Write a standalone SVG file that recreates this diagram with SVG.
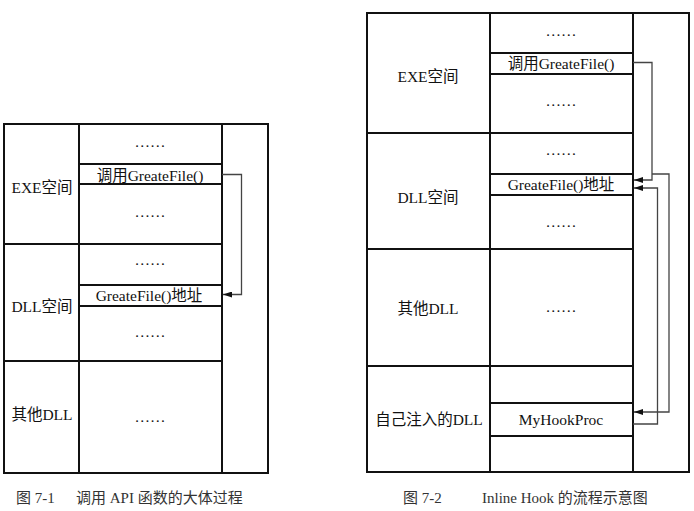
<svg xmlns="http://www.w3.org/2000/svg" width="694" height="511" viewBox="0 0 694 511">
  <style>
    .box { fill: none; stroke: #111; stroke-width: 2; }
    .ln { stroke: #111; stroke-width: 2; }
    .t { font-family: "Liberation Serif", "Noto Sans CJK SC", serif; font-size: 15.5px; fill: #111; text-anchor: middle; }
    .cap { font-family: "Liberation Serif", "Noto Sans CJK SC", serif; font-size: 15px; fill: #333; }
    .conn { fill: none; stroke: #444; stroke-width: 1.3; }
  </style>
  <defs>
    <marker id="arrow" markerUnits="userSpaceOnUse" markerWidth="10" markerHeight="6" refX="9" refY="3" orient="auto">
      <path d="M0,0 L9,3 L0,6 Z" fill="#111"/>
    </marker>
  </defs>
  <rect width="694" height="511" fill="#ffffff"/>

  <!-- Figure 7-1: normal API call -->
  <g id="fig1">
    <rect class="box" x="4" y="124" width="264" height="349"/>
    <line class="ln" x1="79" y1="124" x2="79" y2="473"/>
    <line class="ln" x1="222" y1="124" x2="222" y2="473"/>

    <g id="fig1-exe">
      <text class="t" x="42" y="193">EXE空间</text>
      <text class="t" x="150" y="147">……</text>
      <line class="ln" x1="79" y1="164" x2="222" y2="164"/>
      <text class="t" x="150" y="181">调用GreateFile()</text>
      <line class="ln" x1="79" y1="184" x2="222" y2="184"/>
      <text class="t" x="150" y="217">……</text>
    </g>
    <line class="ln" x1="4" y1="244" x2="222" y2="244"/>

    <g id="fig1-dll">
      <text class="t" x="42" y="312">DLL空间</text>
      <text class="t" x="150" y="265">……</text>
      <line class="ln" x1="79" y1="285" x2="222" y2="285"/>
      <text class="t" x="149" y="301">GreateFile()地址</text>
      <line class="ln" x1="79" y1="306" x2="222" y2="306"/>
      <text class="t" x="150" y="337">……</text>
    </g>
    <line class="ln" x1="4" y1="361" x2="222" y2="361"/>

    <g id="fig1-other">
      <text class="t" x="42" y="420">其他DLL</text>
      <text class="t" x="150" y="422">……</text>
    </g>

    <g id="fig1-connectors">
      <path class="conn" d="M222,174.5 H241.5 V294.5 H223" marker-end="url(#arrow)"/>
    </g>

    <text class="cap" x="16" y="503">图 7-1</text>
    <text class="cap" x="76" y="503">调用 API 函数的大体过程</text>
  </g>

  <!-- Figure 7-2: inline hook flow -->
  <g id="fig2">
    <rect class="box" x="367" y="13" width="322" height="459"/>
    <line class="ln" x1="490" y1="13" x2="490" y2="472"/>
    <line class="ln" x1="633" y1="13" x2="633" y2="472"/>

    <g id="fig2-exe">
      <text class="t" x="428" y="82">EXE空间</text>
      <text class="t" x="561" y="36">……</text>
      <line class="ln" x1="490" y1="53" x2="633" y2="53"/>
      <text class="t" x="561" y="69">调用GreateFile()</text>
      <line class="ln" x1="490" y1="74" x2="633" y2="74"/>
      <text class="t" x="561" y="106">……</text>
    </g>
    <line class="ln" x1="367" y1="133" x2="633" y2="133"/>

    <g id="fig2-dll">
      <text class="t" x="428" y="203">DLL空间</text>
      <text class="t" x="561" y="155">……</text>
      <line class="ln" x1="490" y1="174" x2="633" y2="174"/>
      <text class="t" x="561" y="190">GreateFile()地址</text>
      <line class="ln" x1="490" y1="195" x2="633" y2="195"/>
      <text class="t" x="561" y="227">……</text>
    </g>
    <line class="ln" x1="367" y1="249" x2="633" y2="249"/>

    <g id="fig2-other">
      <text class="t" x="428" y="314">其他DLL</text>
      <text class="t" x="561" y="312">……</text>
    </g>
    <line class="ln" x1="367" y1="366" x2="633" y2="366"/>

    <g id="fig2-hook">
      <text class="t" x="429" y="425">自己注入的DLL</text>
      <line class="ln" x1="490" y1="403" x2="633" y2="403"/>
      <text class="t" x="561" y="425">MyHookProc</text>
      <line class="ln" x1="490" y1="436" x2="633" y2="436"/>
    </g>

    <g id="fig2-connectors">
      <path class="conn" d="M633,62.5 H652 V180 H634" marker-end="url(#arrow)"/>
      <path class="conn" d="M652,174 H669 V412 H634" marker-end="url(#arrow)"/>
      <path class="conn" d="M633,424 H657.5 V188 H634" marker-end="url(#arrow)"/>
    </g>

    <text class="cap" x="403" y="503">图 7-2</text>
    <text class="cap" x="482" y="503">Inline Hook 的流程示意图</text>
  </g>
</svg>
